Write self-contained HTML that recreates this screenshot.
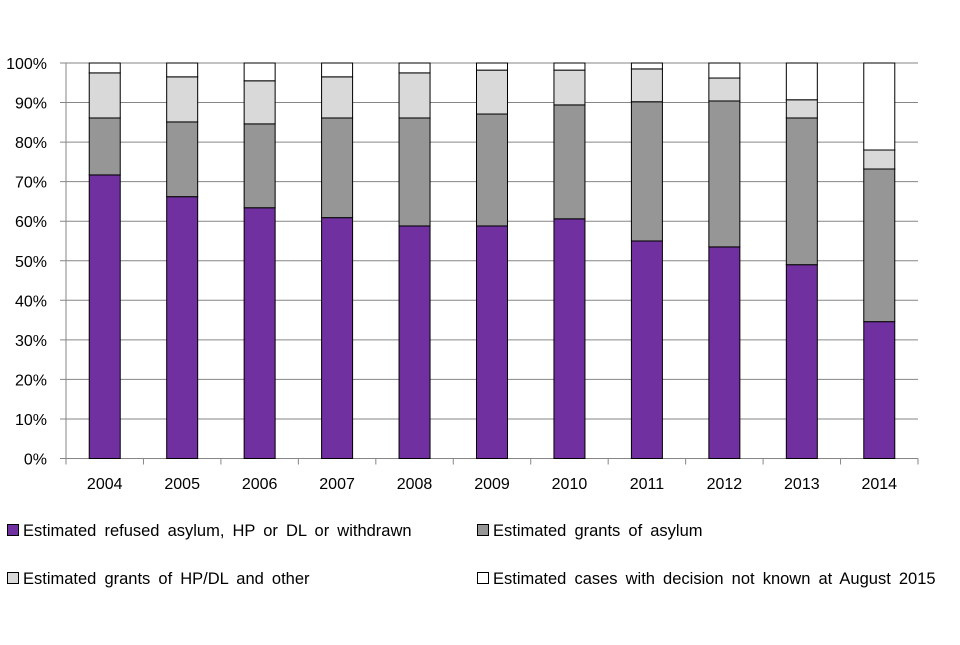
<!DOCTYPE html>
<html><head><meta charset="utf-8"><style>
body{margin:0;background:#fff;}
svg text{font-family:"Liberation Sans",sans-serif;fill:#000;}
</style></head><body>
<svg id="chart" width="960" height="640" xmlns="http://www.w3.org/2000/svg"></svg>
<script>
const categories=["2004","2005","2006","2007","2008","2009","2010","2011","2012","2013","2014"];
const refused=[71.7,66.2,63.4,60.9,58.8,58.8,60.6,55.0,53.5,49.0,34.6];
const grantsAsylum=[14.4,18.9,21.2,25.2,27.3,28.3,28.8,35.2,36.9,37.1,38.6];
const grantsHP=[11.4,11.4,10.9,10.4,11.4,11.1,8.8,8.3,5.8,4.6,4.8];
const notKnown=[2.5,3.5,4.5,3.5,2.5,1.8,1.8,1.5,3.8,9.3,22.0];
const yTicks=[0,10,20,30,40,50,60,70,80,90,100];
const series=[
 {name:"refused",vals:refused,color:"#7030a0"},
 {name:"grants-asylum",vals:grantsAsylum,color:"#969696"},
 {name:"grants-hp-dl",vals:grantsHP,color:"#d9d9d9"},
 {name:"not-known",vals:notKnown,color:"#ffffff"}];
const svg=document.getElementById('chart');
const NS="http://www.w3.org/2000/svg";
const L=66,R=918,T=63,B=458.5;
const y=v=>B-(B-T)*v/100;
const band=(R-L)/categories.length;
const x=i=>L+band*(i+0.5);
const bw=31;
function mk(tag,attrs,parent){const e=document.createElementNS(NS,tag);for(const k in attrs)e.setAttribute(k,attrs[k]);(parent||svg).appendChild(e);return e;}
yTicks.forEach(t=>{
 const g=mk('line',{x1:60,x2:t===0?L:R,y1:y(t),y2:y(t),stroke:'#868686','stroke-width':1});
 
 
 const tx=mk('text',{x:47,y:y(t)+6,'text-anchor':'end','font-size':16});
 tx.textContent=t+'%';
 
 
});
const ya=mk('line',{x1:L,x2:L,y1:T,y2:B,stroke:'#868686'});


const xa=mk('line',{x1:L,x2:R,y1:B,y2:B,stroke:'#868686'});


for(let i=0;i<=categories.length;i++){
 const tk=mk('line',{x1:L+band*i,x2:L+band*i,y1:B,y2:B+6,stroke:'#868686'});
 
 
}
categories.forEach((c,i)=>{
 let cum=0;
 series.forEach(s=>{
  const v=s.vals[i];
  const r=mk('rect',{x:x(i)-bw/2,y:y(cum+v),width:bw,height:y(cum)-y(cum+v),fill:s.color,stroke:'#000','stroke-width':1});
  
  
  cum+=v;
 });
 const tx=mk('text',{x:x(i),y:489,'text-anchor':'middle','font-size':16});
 tx.textContent=c;
 
 
});
const legend=[
 ["Estimated refused asylum, HP or DL or withdrawn","#7030a0",7,531],
 ["Estimated grants of asylum","#969696",477,531],
 ["Estimated grants of HP/DL and other","#d9d9d9",7,579],
 ["Estimated cases with decision not known at August 2015","#ffffff",477,579]];
legend.forEach(l=>{
 const g=mk('g',{});
 
 
 mk('rect',{x:l[2]+0.5,y:l[3]-6.5,width:11,height:11,fill:l[1],stroke:'#000'},g);
 const t=mk('text',{x:l[2]+16,y:l[3]+5,'font-size':16.5,'word-spacing':'3.5'},g);
 t.textContent=l[0];
});
</script>
</body></html>
